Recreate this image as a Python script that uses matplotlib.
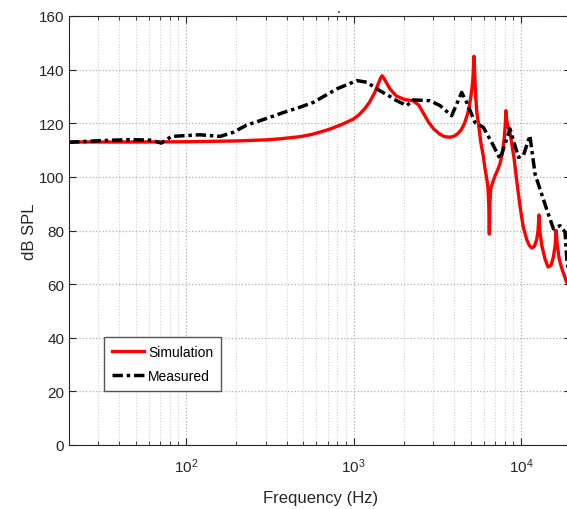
import matplotlib
matplotlib.use('Agg')
import matplotlib.pyplot as plt
from matplotlib.ticker import LogLocator, FixedLocator, NullFormatter

plt.rcParams['font.family'] = ['Liberation Sans', 'DejaVu Sans']

# simulation curve (Hz, dB SPL)
sim_freq = [20, 50, 100, 200, 300, 364, 480, 560, 631, 720, 832, 920, 1000,
            1080, 1170, 1250, 1340, 1400, 1450, 1480, 1510, 1560, 1650,
            1800, 2000, 2265, 2450, 2600, 2800, 3000, 3280, 3500, 3770,
            4000, 4200, 4400, 4600, 4800, 4950, 5100, 5180, 5240, 5290,
            5350, 5450, 5560, 5750, 5950, 6100, 6240, 6350, 6420, 6470,
            6520, 6590, 6800, 7000, 7250, 7500, 7750, 7940, 8050, 8130,
            8220, 8350, 8600, 9100, 9500, 9860, 10300, 10800, 11200, 11600,
            12000, 12400, 12650, 12800, 12950, 13300, 13900, 14500, 15100,
            15600, 16000, 16200, 16450, 16900, 17500, 18700, 20000]
sim_db = [113.0, 113.0, 113.1, 113.4, 113.8, 114.2, 115.0, 115.8, 116.7,
          117.8, 119.3, 120.5, 121.6, 123.2, 125.5, 128.0, 131.5, 134.5,
          136.8, 137.7, 137.0, 135.5, 132.8, 130.2, 128.9, 128.4, 126.8,
          124.0, 120.5, 118.0, 115.9, 115.0, 114.8, 115.2, 116.2, 117.6,
          120.0, 123.5, 127.5, 133.0, 138.0, 145.0, 139.0, 131.0, 124.0,
          120.3, 113.0, 107.9, 103.0, 99.5, 96.0, 90.0, 78.7, 90.0, 95.5,
          98.2, 100.4, 102.5, 105.0, 109.0, 114.5, 119.0, 124.7, 121.0,
          119.0, 116.5, 106.7, 97.0, 89.2, 81.5, 76.8, 74.5, 73.5, 74.0,
          76.5, 80.0, 85.8, 80.0, 74.5, 69.5, 66.4, 67.0, 70.0, 74.5, 80.0,
          75.0, 69.5, 66.0, 60.8, 58.0]

# measured curve (Hz, dB SPL)
meas_freq = [20, 30.7, 46, 62, 71, 82, 100, 121, 160, 191, 230, 303, 381,
             480, 576, 794, 1046, 1200, 1440, 1650, 1810, 2080, 2276, 2864,
             3283, 3855, 4424, 4740, 5310, 5955, 6680, 7500, 8600, 9660,
             10330, 11300, 12140, 12980, 14220, 15630, 17110, 18330, 18830,
             20000]
meas_db = [112.9, 113.5, 113.9, 113.7, 112.6, 115.1, 115.4, 115.7, 115.1,
           116.6, 119.3, 121.8, 124.0, 126.0, 127.8, 132.8, 135.9, 135.3,
           132.1, 130.0, 128.4, 126.6, 128.7, 128.4, 126.6, 122.8, 131.5,
           127.8, 120.3, 118.5, 112.9, 106.7, 117.9, 107.3, 107.9, 115.4,
           101.0, 95.5, 88.0, 80.6, 81.8, 79.4, 68.0, 60.0]

y_ticks = [0, 20, 40, 60, 80, 100, 120, 140, 160]

fig = plt.figure(figsize=(5.67, 5.10), dpi=100)
ax = fig.add_axes([69 / 567, 64 / 510, 502.4 / 567, 429 / 510])

ax.semilogx(sim_freq, sim_db, color='red', lw=2.4, label='Simulation')
ax.semilogx(meas_freq, meas_db, color='black', lw=2.5,
            dashes=(3, 1.1, 1, 1.1), label='Measured')

ax.set_xlim(20, 20000)
ax.set_ylim(0, 160)
ax.yaxis.set_major_locator(FixedLocator(y_ticks))
ax.xaxis.set_major_locator(LogLocator(base=10))
ax.xaxis.set_minor_locator(LogLocator(base=10, subs=range(2, 10)))
ax.xaxis.set_minor_formatter(NullFormatter())

ax.grid(which='major', color='#b0b0b0', linestyle=':', linewidth=0.9)
ax.grid(which='minor', axis='x', color='#d0d0d0', linestyle=':', linewidth=0.8)
ax.tick_params(which='both', direction='in', top=True, right=True,
               labelsize=11, colors='#262626')
ax.tick_params(which='major', length=5)
ax.tick_params(axis='x', which='major', pad=8)
ax.tick_params(which='minor', length=3)
for s in ax.spines.values():
    s.set_color('#262626')

ax.set_xlabel('Frequency (Hz)', fontsize=12, color='#262626', labelpad=11)
ax.set_ylabel('dB SPL', fontsize=12, color='#262626', labelpad=1)

leg = ax.legend(loc='lower left', bbox_to_anchor=(0.07, 0.126), fontsize=10,
                fancybox=False, framealpha=1, edgecolor='#555555',
                handlelength=2.3, handletextpad=0.3, borderpad=0.55,
                labelspacing=0.75, borderaxespad=0)
leg.get_frame().set_linewidth(1.0)

fig.text(339 / 567, 1 - 13 / 510, '.', fontsize=10, ha='center',
         va='baseline')

fig.savefig('out.png', dpi=100)
